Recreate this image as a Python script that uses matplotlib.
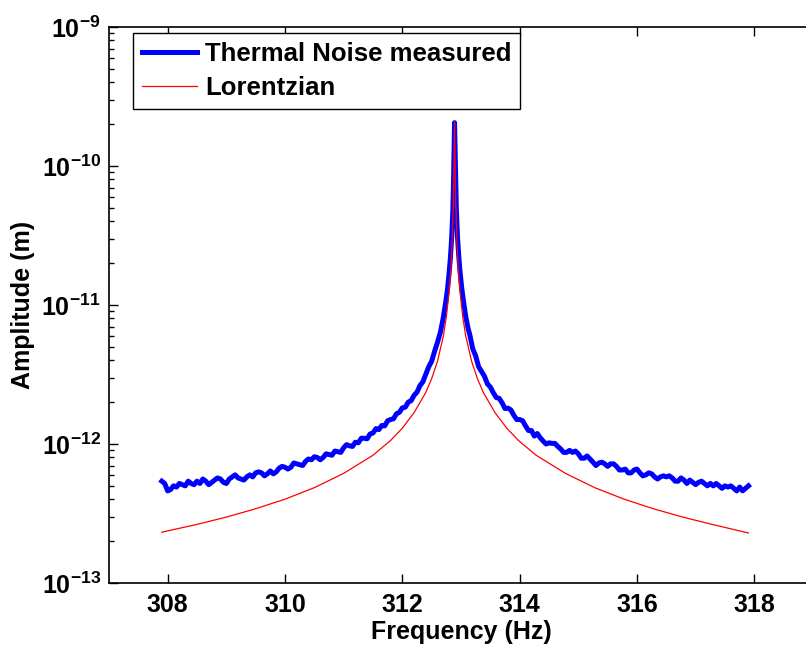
import numpy as np
import matplotlib
matplotlib.use('Agg')
import matplotlib.pyplot as plt
from matplotlib import ticker

plt.rcParams['font.family'] = ['Liberation Sans', 'DejaVu Sans']
plt.rcParams['font.weight'] = 'bold'
plt.rcParams['mathtext.fontset'] = 'custom'
plt.rcParams['mathtext.rm'] = 'Liberation Sans:bold'
plt.rcParams['mathtext.bf'] = 'Liberation Sans:bold'
plt.rcParams['mathtext.default'] = 'bf'

# measured thermal noise, amplitudes in pm (1e-12 m)
# left flank, bins of 0.05 Hz from 307.90 to 312.60
noise_left = [0.54, 0.52, 0.46, 0.47, 0.50, 0.49, 0.52, 0.51, 0.50, 0.54,
              0.52, 0.51, 0.54, 0.52, 0.56, 0.54, 0.51, 0.53, 0.55, 0.57,
              0.56, 0.53, 0.52, 0.56, 0.58, 0.60, 0.57, 0.56, 0.55, 0.58,
              0.60, 0.58, 0.62, 0.63, 0.62, 0.59, 0.61, 0.64, 0.61, 0.63,
              0.67, 0.69, 0.68, 0.66, 0.68, 0.73, 0.72, 0.71, 0.70, 0.75,
              0.78, 0.77, 0.81, 0.80, 0.77, 0.80, 0.85, 0.84, 0.83, 0.89,
              0.88, 0.87, 0.94, 0.99, 0.97, 0.96, 1.03, 1.02, 1.10, 1.10,
              1.09, 1.18, 1.20, 1.29, 1.27, 1.36, 1.35, 1.47, 1.50, 1.52,
              1.65, 1.69, 1.82, 1.84, 2.00, 2.05, 2.24, 2.36, 2.63, 2.80,
              3.18, 3.59, 3.94, 4.65, 5.40]
# around the resonance
peak_freq = [312.65, 312.70, 312.74, 312.77, 312.80, 312.82, 312.84, 312.86,
             312.87, 312.88, 312.89, 312.90, 312.91, 312.92, 312.94, 312.96,
             312.98, 313.01, 313.04, 313.08, 313.12]
peak_amp = [6.4, 8.2, 10.5, 13.0, 17.5, 22, 30, 47, 68, 120, 205, 125, 72,
            50, 31, 23, 18, 13.5, 10.8, 8.3, 6.8]
# right flank, bins of 0.05 Hz from 313.15 to 317.90
noise_right = [6.1, 4.85, 4.3, 3.6, 3.33, 3.07, 2.71, 2.57, 2.34, 2.16,
               2.13, 1.98, 1.80, 1.81, 1.76, 1.61, 1.50, 1.50, 1.47, 1.35,
               1.25, 1.25, 1.14, 1.19, 1.11, 1.05, 1.00, 1.02, 1.01, 1.01,
               0.96, 0.92, 0.87, 0.87, 0.90, 0.87, 0.89, 0.85, 0.79, 0.79,
               0.82, 0.78, 0.74, 0.70, 0.73, 0.74, 0.72, 0.69, 0.72, 0.72,
               0.69, 0.65, 0.65, 0.66, 0.62, 0.62, 0.65, 0.66, 0.62, 0.59,
               0.60, 0.62, 0.61, 0.58, 0.56, 0.58, 0.59, 0.58, 0.59, 0.57,
               0.54, 0.54, 0.57, 0.55, 0.52, 0.55, 0.53, 0.51, 0.53, 0.54,
               0.52, 0.50, 0.52, 0.50, 0.52, 0.50, 0.48, 0.50, 0.49, 0.50,
               0.48, 0.46, 0.49, 0.46, 0.48, 0.50]

# Lorentzian fit, amplitudes in pm
lor_freq = [307.90, 308.50, 309.00, 309.50, 310.00, 310.50, 311.00, 311.50,
            311.80, 312.00, 312.20, 312.40, 312.50, 312.60, 312.70, 312.75,
            312.80, 312.83, 312.85, 312.87, 312.88, 312.89, 312.90, 312.91,
            312.93, 312.95, 312.98, 313.03, 313.08, 313.18, 313.28, 313.38,
            313.58, 313.78, 313.98, 314.28, 314.78, 315.28, 315.78, 316.28,
            316.78, 317.28, 317.90]
lor_amp = [0.232, 0.264, 0.298, 0.342, 0.401, 0.485, 0.615, 0.83,
           1.06, 1.30, 1.68, 2.35, 2.95, 3.95, 6.0, 8.2,
           12.8, 19.0, 28.5, 55, 100, 207, 100, 55,
           28.5, 19.0, 12.8, 8.2, 6.0, 3.95, 2.95, 2.35,
           1.68, 1.30, 1.06, 0.83, 0.615, 0.485, 0.401, 0.342,
           0.298, 0.264, 0.229]

freq_left = np.linspace(307.90, 312.60, len(noise_left))
freq_right = np.linspace(313.15, 317.90, len(noise_right))
noise_freq = np.concatenate([freq_left, peak_freq, freq_right])
noise_amp = np.concatenate([noise_left, peak_amp, noise_right]) * 1e-12

fig = plt.figure(figsize=(8.06, 6.45), dpi=100)
ax = fig.add_axes([109 / 806, 62 / 645, 704 / 806, 556 / 645])

ax.semilogy(noise_freq, noise_amp, color=(0, 0, 1), linewidth=3.6,
            label='Thermal Noise measured')
ax.semilogy(lor_freq, np.array(lor_amp) * 1e-12, color=(1, 0, 0),
            linewidth=0.9, label='Lorentzian')

ax.set_xlim(307, 319)
ax.set_ylim(1e-13, 1e-9)
ax.xaxis.set_major_locator(ticker.MultipleLocator(2))
ax.yaxis.set_major_locator(ticker.LogLocator(base=10, numticks=10))
ax.yaxis.set_minor_locator(ticker.LogLocator(base=10, subs=np.arange(2, 10), numticks=20))
ax.yaxis.set_minor_formatter(ticker.NullFormatter())

ax.tick_params(which='both', direction='in', top=True, right=False, width=1)
ax.tick_params(which='major', length=6.5, labelsize=18)
ax.tick_params(which='minor', length=3.3)
ax.tick_params(axis='x', pad=7)
ax.tick_params(axis='y', pad=6)
for s in ax.spines.values():
    s.set_linewidth(1.2)

ax.set_xlabel('Frequency (Hz)', fontsize=18, fontweight='bold')
ax.set_ylabel('Amplitude (m)', fontsize=18, fontweight='bold')
ax.xaxis.set_label_coords(0.5, -0.067)
ax.yaxis.set_label_coords(-0.105, 0.5)

leg = ax.legend(loc='upper left', bbox_to_anchor=(0.034, 0.99), borderaxespad=0,
                fontsize=18.5, frameon=True, fancybox=False, handlelength=2.15,
                handletextpad=0.3, labelspacing=0.42, borderpad=0.35)
leg.get_frame().set_edgecolor('black')
leg.get_frame().set_linewidth(1.0)
leg.get_frame().set_alpha(1)

fig.savefig('out.png', dpi=100)
